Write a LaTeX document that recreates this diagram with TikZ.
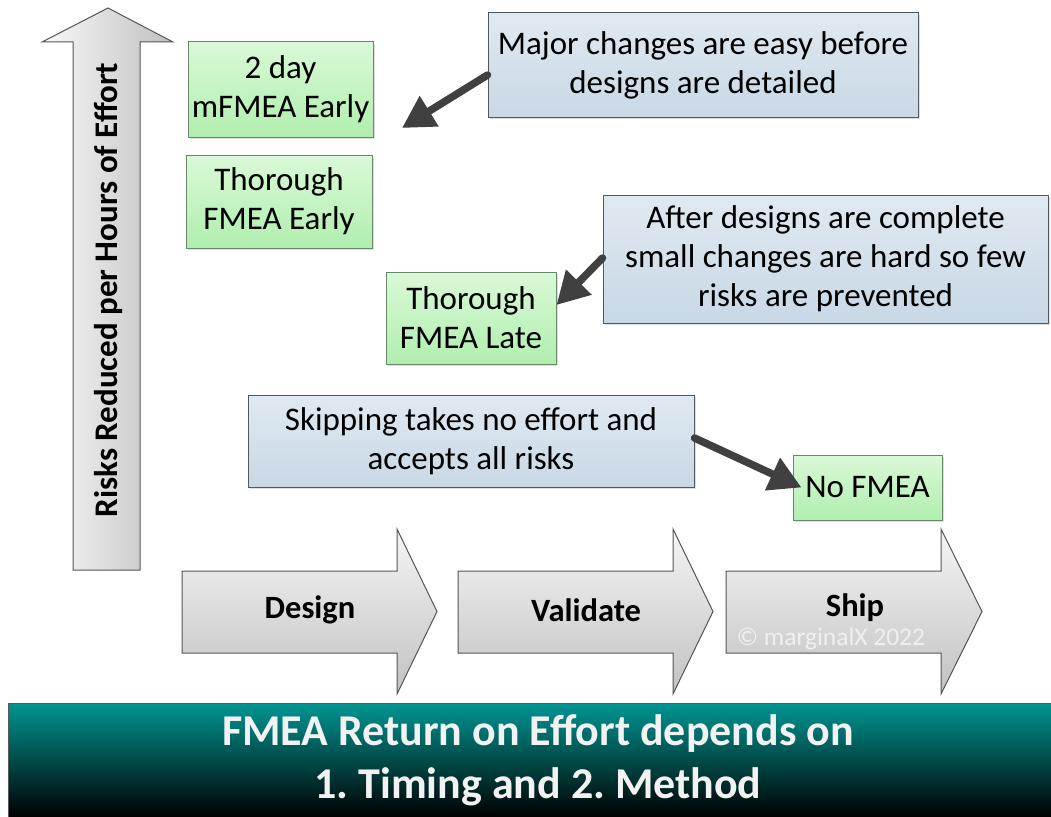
\documentclass[tikz,border=0pt]{standalone}
\usepackage{fontspec}
\setmainfont{Carlito}
\usetikzlibrary{arrows.meta,shadows}
\definecolor{grnT}{RGB}{218,249,216}
\definecolor{grnB}{RGB}{176,238,174}
\definecolor{grnE}{RGB}{105,135,105}
\definecolor{bluT}{RGB}{224,233,241}
\definecolor{bluB}{RGB}{200,216,229}
\definecolor{bluE}{RGB}{80,88,96}
\definecolor{arrC}{RGB}{64,64,64}
\definecolor{tealT}{RGB}{0,150,146}
\definecolor{banTxt}{RGB}{242,242,242}
\definecolor{chevE}{RGB}{85,85,85}
\frenchspacing
\tikzset{
  txt/.style={font=\fontsize{33}{39}\selectfont, align=center, inner sep=0pt},
  greenbox/.style={txt, draw=grnE, line width=1pt, top color=grnT, bottom color=grnB,
    drop shadow={shadow xshift=2pt, shadow yshift=-2pt, opacity=0.25}},
  bluebox/.style={txt, draw=bluE, line width=1pt, top color=bluT, bottom color=bluB,
    drop shadow={shadow xshift=2pt, shadow yshift=-2pt, opacity=0.25}},
  pointer/.style={draw=arrC, line width=7.5pt, line cap=round,
    -{Triangle[length=32pt,width=34pt]}},
  chev/.style={draw=chevE, line width=1pt, top color=gray!8, bottom color=gray!48},
  chevlabel/.style={font=\fontsize{32.5}{36}\selectfont\bfseries, inner sep=0pt},
}
\begin{document}
\begin{tikzpicture}[x=1pt,y=-1pt]
\useasboundingbox (0,0) rectangle (1051,816);
\fill[white] (0,0) rectangle (1051,816);

% vertical axis arrow
\draw[draw=chevE, line width=1pt, left color=gray!5, right color=gray!50]
  (73,570) -- (73,42) -- (42,42) -- (108,8) -- (173,42) -- (140,42) -- (140,570) -- cycle;
\node[rotate=90, font=\fontsize{33}{36}\selectfont\bfseries, inner sep=0pt] (axis) at (108,290)
  {Risks Reduced per Hours of Effort};

% green boxes
\node[greenbox, minimum width=185pt, minimum height=95pt] (g1) at (280.5,89.5) {2 day\\mFMEA Early};
\node[greenbox, minimum width=186pt, minimum height=93pt] (g2) at (279,201.5) {Thorough\\FMEA Early};
\node[greenbox, minimum width=170pt, minimum height=92pt] (g3) at (471,318) {Thorough\\FMEA Late};
\node[greenbox, minimum width=149pt, minimum height=65pt] (g4) at (867.5,487.5) {No FMEA};

% blue callouts
\node[bluebox, minimum width=430pt, minimum height=104pt] (b1) at (703,65)
  {Major changes are easy before\\designs are detailed};
\node[bluebox, minimum width=445pt, minimum height=128pt] (b2) at (825.5,259)
  {After designs are complete\\small changes are hard so few\\risks are prevented};
\node[bluebox, minimum width=446pt, minimum height=92pt] (b3) at (471,441)
  {Skipping takes no effort and\\accepts all risks};

% pointers
\coordinate (t1) at (402,128);
\coordinate (t2) at ([yshift=13pt]g3.east);
\coordinate (t3) at ([xshift=9pt]g4.west);
\draw[pointer] ([yshift=-10pt]b1.west) -- (t1);
\draw[pointer] ([yshift=1pt]b2.west) -- (t2);
\draw[pointer] ([yshift=3pt]b3.east) -- (t3);

% process chevrons
\draw[chev] (182,571) -- (397,571) -- (397,529) -- (437,611.5) -- (397,694) -- (397,653) -- (182,653) -- cycle;
\draw[chev] (458,571) -- (673,571) -- (673,529) -- (713,611.5) -- (673,694) -- (673,653) -- (458,653) -- cycle;
\draw[chev] (726,571) -- (941,571) -- (941,529) -- (982,611.5) -- (941,694) -- (941,653) -- (726,653) -- cycle;
\node[chevlabel] (design) at (310,610) {Design};
\node[chevlabel] (validate) at (586,610) {Validate};
\node[chevlabel] (ship) at (855,608) {Ship};
\node[font=\fontsize{25.5}{28}\selectfont, text=white!88!gray, inner sep=0pt] (copy) at (831,639) {© marginalX 2022};

% banner
\draw[draw=gray!70!black, line width=1pt, top color=tealT, bottom color=black]
  (8,703) rectangle (1052,817);
\node[font=\fontsize{44}{53}\selectfont\bfseries, text=banTxt, align=center, inner sep=0pt] (banner) at (538,760)
  {FMEA Return on Effort depends on\\1. Timing and 2. Method};
\end{tikzpicture}
\end{document}
